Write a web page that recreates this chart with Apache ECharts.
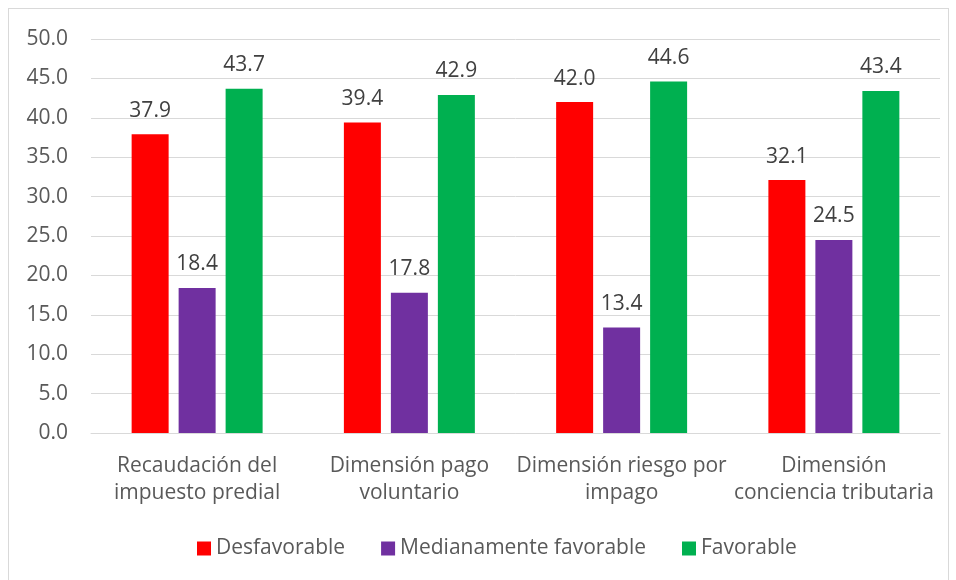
<!DOCTYPE html>
<html><head><meta charset="utf-8">
<script src="https://cdn.jsdelivr.net/npm/echarts@6/dist/echarts.min.js"></script>
<style>html,body{margin:0;padding:0;background:#fff}#c{width:956px;height:580px}
#frame{position:absolute;left:8px;top:8px;width:941px;height:580px;border:1px solid #d9d9d9;box-sizing:border-box;pointer-events:none}</style>
</head><body><div id="c"></div><div id="frame"></div>
<script>
const categories = ["Recaudación del\nimpuesto predial", "Dimensión pago\nvoluntario", "Dimensión riesgo por\nimpago", "Dimensión\nconciencia tributaria"];
const desfavorable = [37.9, 39.4, 42.0, 32.1];
const medianamente = [18.4, 17.8, 13.4, 24.5];
const favorable = [43.7, 42.9, 44.6, 43.4];
const seriesNames = ["Desfavorable", "Medianamente favorable", "Favorable"];
const colors = ["#FF0000", "#7030A0", "#00B050"];
const FONT = "Open Sans";
const chart = echarts.init(document.getElementById('c'));
const lbl = {show:true, position:'top', distance:13, color:'#404040', fontSize:21, fontFamily:FONT, formatter:p=>p.value.toFixed(1)};
function mk(i, data){return {name:seriesNames[i], type:'bar', data, barWidth:37, barGap:'27%', itemStyle:{color:colors[i]}, label:lbl};}
chart.setOption({
  animation:false,
  textStyle:{fontFamily:FONT},
  grid:{left:91, right:16, top:39, bottom:147},
  legend:{bottom:16, left:192, itemWidth:14, itemHeight:14, itemGap:36, icon:'rect',
    textStyle:{color:'#595959', fontSize:21, fontFamily:FONT}, data:seriesNames},
  xAxis:{type:'category', data:categories, axisLine:{lineStyle:{color:'#d9d9d9'}}, axisTick:{show:false},
    axisLabel:{color:'#595959', fontSize:21, fontFamily:FONT, lineHeight:27, margin:20, interval:0}},
  yAxis:{type:'value', min:0, max:50, interval:5, axisLine:{show:false}, axisTick:{show:false},
    splitLine:{lineStyle:{color:'#d9d9d9'}},
    axisLabel:{color:'#595959', fontSize:21, fontFamily:FONT, margin:23, formatter:v=>v.toFixed(1)}},
  series:[mk(0,desfavorable), mk(1,medianamente), mk(2,favorable)]
});
</script></body></html>
